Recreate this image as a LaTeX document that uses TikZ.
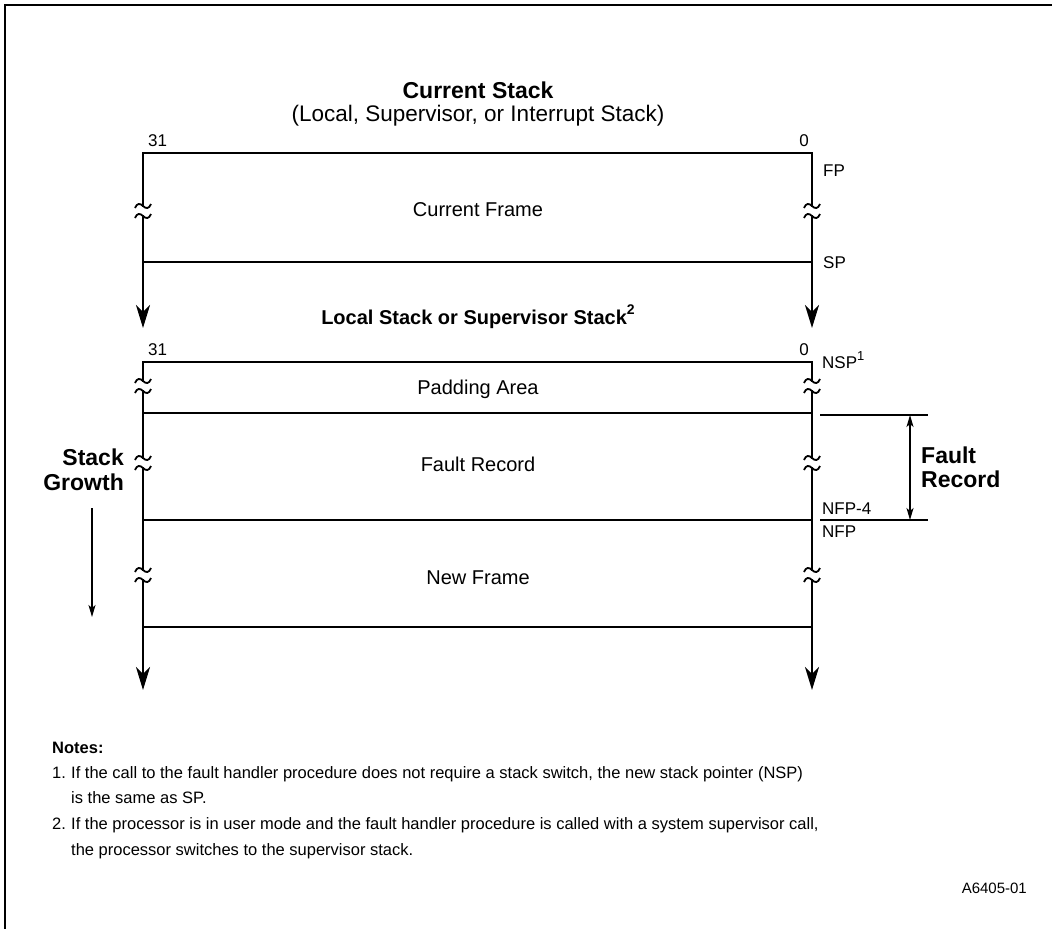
\documentclass[tikz,border=0pt]{standalone}
\usepackage{fontspec}
\setmainfont{Liberation Sans}
\usetikzlibrary{arrows.meta}
\newcommand{\fs}[1]{\fontsize{#1}{#1}\selectfont}
\newcommand{\notenum}[1]{\makebox[19pt][l]{#1}}
\tikzset{
  mainline/.style={line width=2.6pt},
  hline/.style={line width=2.6pt, line cap=rect},
  thinline/.style={line width=1.2pt},
  bigarrow/.style={-{Stealth[length=23pt,width=14pt,inset=7pt]}},
  smallarrow/.style={-{Stealth[length=12pt,width=7pt,inset=3pt]}},
  dblarrow/.style={{Stealth[length=12pt,width=7pt,inset=3pt]}-{Stealth[length=12pt,width=7pt,inset=3pt]}},
  lbl/.style={inner sep=0pt, font=\fs{17}},
  boxtext/.style={inner sep=0pt, anchor=base, font=\fs{20}},
  boldtext/.style={inner sep=0pt, font=\fs{23}\bfseries},
  notetext/.style={inner sep=0pt, anchor=base west, font=\fs{16.5}},
  brk/.pic={
    \fill[white] (-4,-3.6) rectangle (4,3.6);
    \draw[line width=1.8pt] (-8,-3) .. controls (-6,-8) and (-3,-8) .. (0,-5) .. controls (3,-2) and (6,-2) .. (8,-7);
    \draw[line width=1.8pt] (-8,7) .. controls (-6,2) and (-3,2) .. (0,5) .. controls (3,8) and (6,8) .. (8,3);
  }
}
\begin{document}
\begin{tikzpicture}[x=1pt,y=-1pt]
\useasboundingbox (0,0) rectangle (1052,929);
% outer frame (top and left visible)
\coordinate (fa) at (1052,5);
\coordinate (fb) at (5,5);
\coordinate (fc) at (5,929);
\draw[line width=1.5pt] (fa) -- (fb) -- (fc);

% ---------- current stack ----------
\coordinate (tl) at (143,153);
\coordinate (tr) at (812,153);
\coordinate (spl) at (143,262);
\coordinate (spr) at (812,262);
\coordinate (atl) at (143,328);
\coordinate (atr) at (812,328);
\draw[hline] (tl) -- (tr);
\draw[hline] (spl) -- (spr);
\draw[mainline,bigarrow] (tl) -- (atl);
\draw[mainline,bigarrow] (tr) -- (atr);
\pic at (143,211) {brk};
\pic at (812,211) {brk};

\node[boldtext, anchor=base] (t1) at (478,98) {Current Stack};
\node[inner sep=0pt, anchor=base, font=\fs{22.5}] (t2) at (478,121) {(Local, Supervisor, or Interrupt Stack)};
\node[lbl, anchor=base west] (n31a) at (148,146) {31};
\node[lbl, anchor=base east] (n0a) at (809,146) {0};
\node[lbl, anchor=base west] (fp) at (823,176) {FP};
\node[lbl, anchor=base west] (sp) at (823,268) {SP};
\node[boxtext] (cf) at (478,216) {Current Frame};

% ---------- local / supervisor stack ----------
\node[inner sep=0pt, anchor=base, font=\fs{20}\bfseries] (t3) at (478,324) {Local Stack or Supervisor Stack\raisebox{0.5em}{\fs{14}2}};
\coordinate (bl0) at (143,362);
\coordinate (br0) at (812,362);
\coordinate (bl1) at (143,413);
\coordinate (br1) at (812,413);
\coordinate (bl2) at (143,520);
\coordinate (br2) at (812,520);
\coordinate (bl3) at (143,627);
\coordinate (br3) at (812,627);
\coordinate (abl) at (143,690);
\coordinate (abr) at (812,690);
\draw[hline] (bl0) -- (br0);
\draw[hline] (bl1) -- (br1);
\draw[hline] (bl2) -- (br2);
\draw[hline] (bl3) -- (br3);
\draw[mainline,bigarrow] (bl0) -- (abl);
\draw[mainline,bigarrow] (br0) -- (abr);
\foreach \yy in {386,463,575}{
  \pic at (143,\yy) {brk};
  \pic at (812,\yy) {brk};
}
\node[lbl, anchor=base west] (n31b) at (148,355) {31};
\node[lbl, anchor=base east] (n0b) at (809,355) {0};
\node[lbl, anchor=base west] (nsp) at (822,368) {NSP\raisebox{0.45em}{\fs{13}1}};
\node[boxtext] (pa) at (478,394) {Padding Area};
\node[boxtext] (fr) at (478,471) {Fault Record};
\node[boxtext] (nf) at (478,584) {New Frame};
\node[lbl, anchor=base west] (nfp4) at (822,514) {NFP-4};
\node[lbl, anchor=base west] (nfp) at (822,537) {NFP};

% fault record bracket
\coordinate (ea1) at (820,415);
\coordinate (ea2) at (928,415);
\coordinate (eb1) at (820,520);
\coordinate (eb2) at (928,520);
\draw[thinline] (ea1) -- (ea2);
\draw[thinline] (eb1) -- (eb2);
\coordinate (da) at (910,415);
\coordinate (db) at (910,520);
\draw[thinline,dblarrow] (da) -- (db);
\node[boldtext, anchor=base west] (frl1) at (921,463) {Fault};
\node[boldtext, anchor=base west] (frl2) at (921,487) {Record};

% stack growth
\node[boldtext, anchor=base east] (sg1) at (124,465) {Stack};
\node[boldtext, anchor=base east] (sg2) at (124,490) {Growth};
\coordinate (ga) at (92,508);
\coordinate (gb) at (92,617);
\draw[thinline,smallarrow] (ga) -- (gb);

% notes
\node[inner sep=0pt, anchor=base west, font=\fs{16.5}\bfseries] (notes) at (52,753) {Notes:};
\node[notetext] (nl1) at (52,778) {\notenum{1.}If the call to the fault handler procedure does not require a stack switch, the new stack pointer (NSP)};
\node[notetext] (nl2) at (52,803) {\notenum{}is the same as SP.};
\node[notetext] (nl3) at (52,829) {\notenum{2.}If the processor is in user mode and the fault handler procedure is called with a system supervisor call,};
\node[notetext] (nl4) at (52,855) {\notenum{}the processor switches to the supervisor stack.};
\node[inner sep=0pt, anchor=base east, font=\fs{15}] (code) at (1027,893) {A6405-01};
\end{tikzpicture}
\end{document}
